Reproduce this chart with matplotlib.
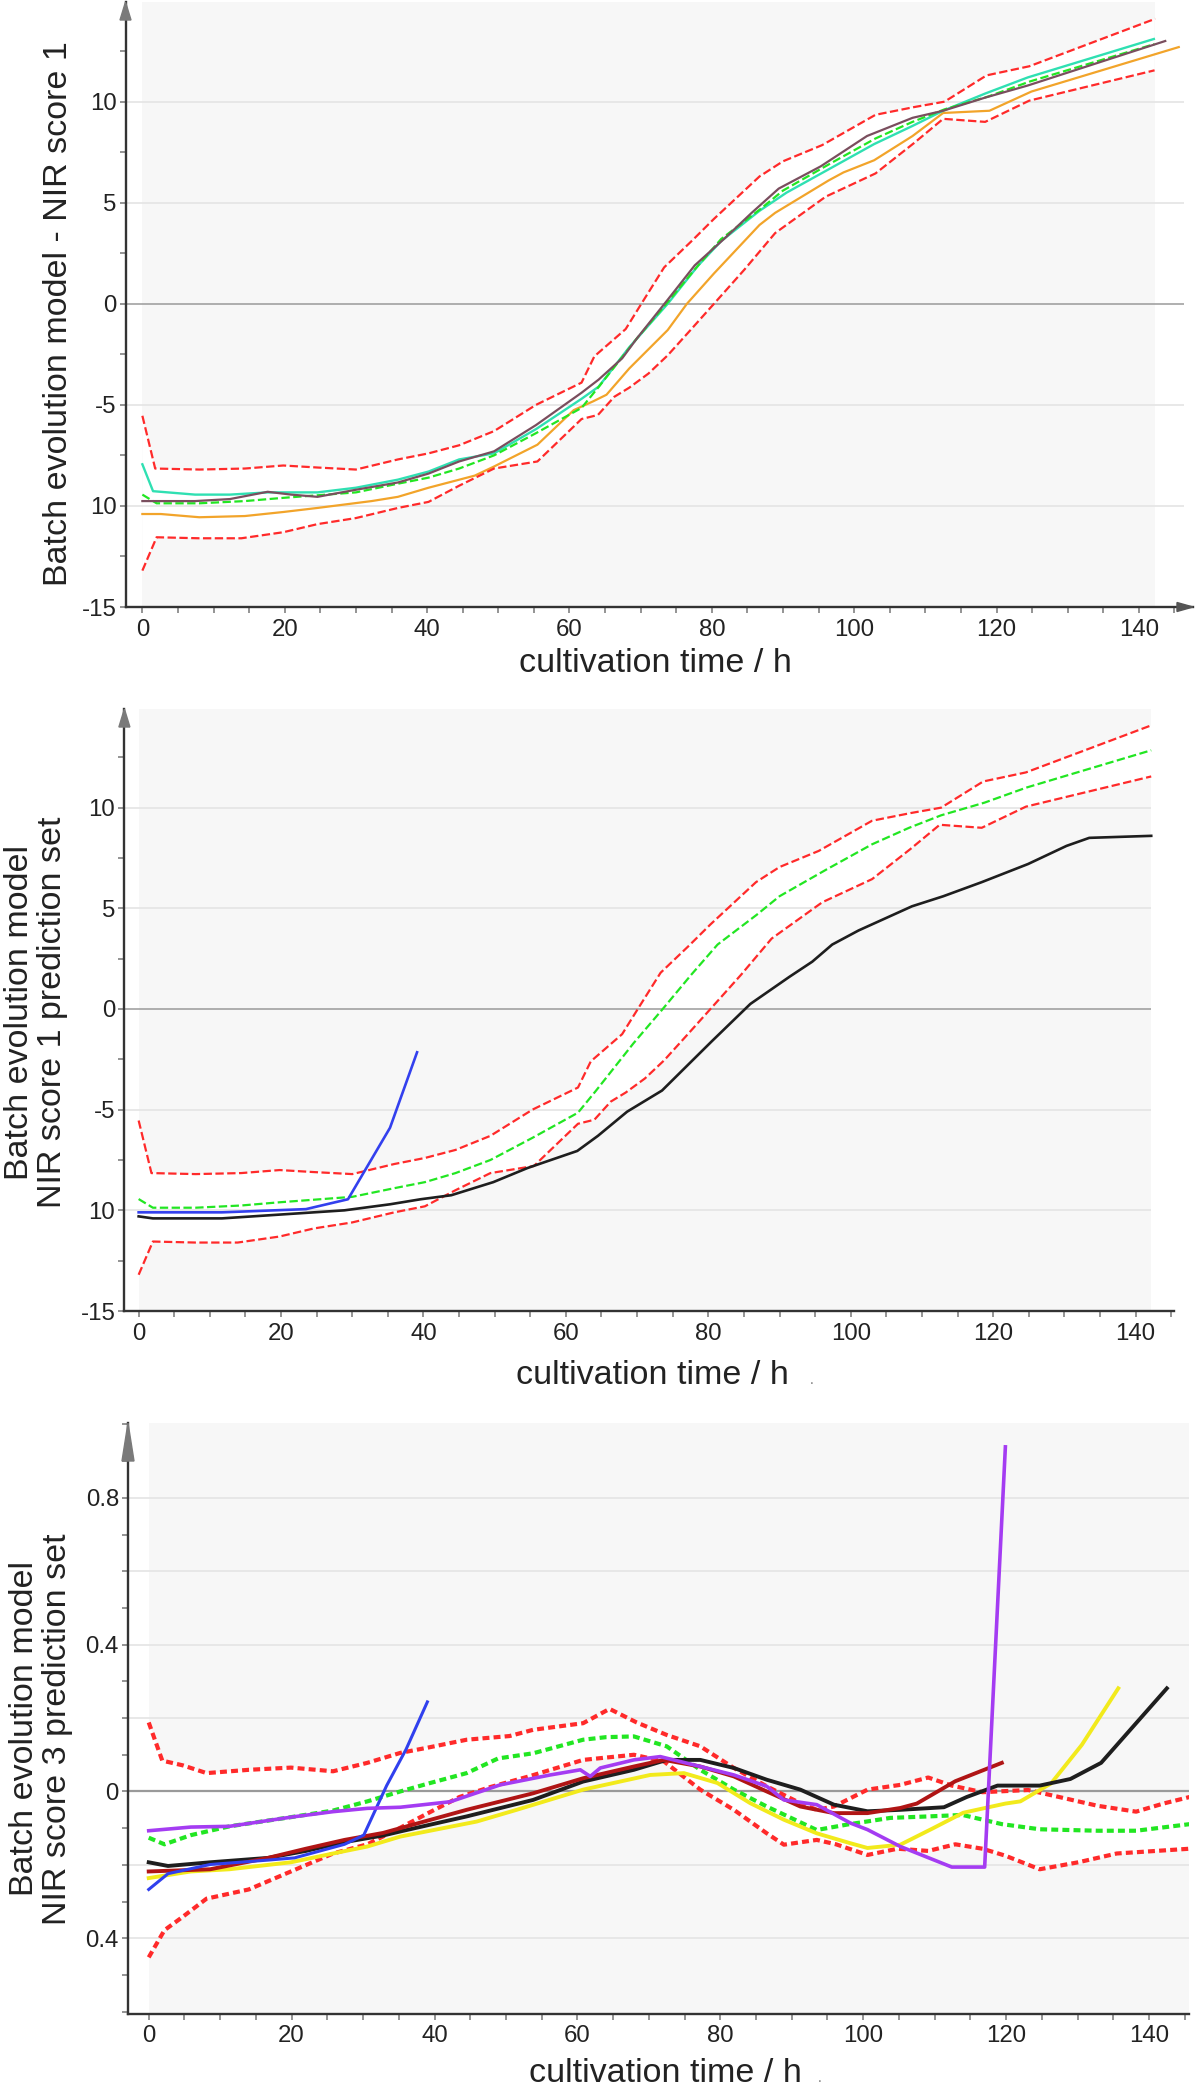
import matplotlib
matplotlib.use("Agg")
import matplotlib.pyplot as plt
from matplotlib.patches import Rectangle, Polygon
from matplotlib.ticker import MultipleLocator
import numpy as np

plt.rcParams['font.family'] = ['Liberation Sans', 'DejaVu Sans']
plt.rcParams['lines.scale_dashes'] = False

# ---------------- data: model limits / mean (score 1, panels 1 & 2) ----------------
ucl1_t = [0, 1.8, 8, 14.4, 19.8, 24.6, 30, 35.9, 40.2, 44.5, 49.4, 55.3, 61.7, 63.5, 67.9,
          70.1, 73.3, 77.3, 80.3, 86.7, 90, 95.5, 103, 108.4, 112.7, 118.6, 124.6, 142.3]
ucl1 = [-5.54, -8.15, -8.2, -8.15, -8.0, -8.1, -8.2, -7.7, -7.4, -7.0, -6.3, -5.0, -3.9, -2.6,
        -1.25, 0, 1.8, 3.15, 4.2, 6.3, 7.05, 7.85, 9.35, 9.73, 10.0, 11.3, 11.75, 14.1]

lcl1_t = [0, 2, 8, 13.9, 19.8, 24.6, 30, 35.9, 40.2, 44.5, 49.4, 55.5, 61.7, 64, 66.3, 68.4,
          71.1, 73.8, 77, 80.3, 84.6, 88.9, 96, 103, 108.4, 112.5, 118.4, 124.6, 128.7, 142.2]
lcl1 = [-13.2, -11.55, -11.6, -11.6, -11.3, -10.9, -10.6, -10.1, -9.8, -9.0, -8.15, -7.8, -5.7,
        -5.5, -4.6, -4.15, -3.45, -2.55, -1.3, 0, 1.7, 3.5, 5.3, 6.45, 7.95, 9.15, 9.0, 10.05,
        10.4, 11.55]

mean1_t = [0, 2, 8, 14.4, 19.8, 30, 35.9, 40.2, 44.5, 49.4, 55.3, 61.7, 64.2, 69.5, 73.6,
           77.6, 81.3, 86.8, 90, 96.6, 103, 108.2, 112.7, 118.8, 124.7, 142.2]
mean1 = [-9.44, -9.87, -9.87, -9.76, -9.6, -9.33, -8.9, -8.6, -8.15, -7.5, -6.4, -5.15, -4.07,
         -1.7, 0, 1.7, 3.2, 4.68, 5.6, 6.93, 8.18, 9.0, 9.62, 10.25, 11.0, 12.85]

# panel 1 training batches
cyan_t = [0, 1.5, 7.4, 12.3, 17.6, 24.6, 30, 35.9, 40.2, 44.5, 49.4, 55.3, 61.7, 64.1, 68.4,
          73.8, 78.1, 81.3, 86.7, 90.5, 96.4, 102.8, 108.2, 112.5, 118.4, 124.4, 142.1]
cyan = [-7.94, -9.27, -9.44, -9.44, -9.33, -9.33, -9.1, -8.7, -8.3, -7.7, -7.4, -6.2, -4.7,
        -4.1, -2.15, 0, 1.9, 3.1, 4.6, 5.5, 6.65, 7.9, 8.8, 9.55, 10.4, 11.2, 13.1]

mauve_t = [0, 7.4, 12.3, 17.6, 20.9, 24.6, 30, 35.9, 40.2, 44.5, 49.4, 55.3, 61.7, 64.1, 67.4,
           69.5, 73.8, 77.6, 82, 85.6, 89.4, 95.3, 101.8, 108.2, 112.5, 118.4, 124.4, 143.7]
mauve = [-9.76, -9.76, -9.66, -9.3, -9.44, -9.55, -9.2, -8.84, -8.4, -7.8, -7.3, -6.0, -4.4,
         -3.75, -2.7, -1.7, 0.2, 1.9, 3.3, 4.5, 5.7, 6.8, 8.3, 9.2, 9.55, 10.2, 10.8, 13.0]

orange_t = [0, 2.6, 8, 14.4, 19.8, 24.6, 32.2, 35.9, 40.2, 46.7, 49.4, 55.5, 60.6, 63.3, 65.2,
            68.4, 73.8, 76.5, 80.3, 86.7, 88.9, 96.4, 98.5, 102.8, 108.2, 112.5, 119, 124.9,
            145.6]
orange = [-10.4, -10.4, -10.56, -10.5, -10.3, -10.1, -9.76, -9.55, -9.1, -8.5, -8.05, -6.97,
          -5.26, -4.83, -4.5, -3.2, -1.3, 0, 1.5, 3.9, 4.5, 6.1, 6.5, 7.1, 8.3, 9.44, 9.55, 10.5,
          12.7]

# panel 2 prediction batches
black2_t = [0, 2, 11.7, 20.3, 28.9, 35.3, 39.6, 43.9, 49.8, 54.6, 61.6, 64.5, 68.6, 73.5, 80.5,
            85.9, 91.4, 94.6, 97.4, 101.1, 108.6, 113, 118.4, 124.9, 130.3, 133.5, 142.2]
black2 = [-10.3, -10.4, -10.4, -10.2, -10.0, -9.7, -9.45, -9.25, -8.6, -7.9, -7.05, -6.3, -5.1,
          -4.05, -1.6, 0.25, 1.6, 2.35, 3.2, 3.9, 5.1, 5.6, 6.3, 7.2, 8.1, 8.5, 8.6]

blue2_t = [0, 11.7, 23.5, 29.4, 35.3, 39.1]
blue2 = [-10.1, -10.1, -9.94, -9.45, -5.9, -2.15]

# ---------------- data: score 3 (panel 3) ----------------
ucl3_t = [0, 1.9, 4.8, 8.1, 14, 19.9, 25.8, 30.6, 35.2, 39.2, 44.5, 50.5, 53.8, 60.8, 64.5,
          68.3, 72.5, 77.2, 81.9, 86.5, 91.2, 93.5, 95.9, 100.6, 105.2, 109.1, 112.4, 116.7,
          123.1, 127.4, 132.8, 138.2, 142, 145.7]
ucl3 = [0.188, 0.084, 0.071, 0.05, 0.059, 0.065, 0.055, 0.078, 0.105, 0.12, 0.141, 0.151, 0.168,
        0.186, 0.225, 0.188, 0.154, 0.123, 0.064, 0.014, -0.032, -0.05, -0.041, 0.005, 0.018,
        0.038, 0.016, -0.002, 0.004, -0.015, -0.039, -0.055, -0.033, -0.015]

lcl3_t = [0, 2.2, 4.8, 8.1, 14, 19.9, 25.8, 30.6, 35, 39.2, 43.5, 47.8, 53.2, 60.8, 67.9, 72.1,
          77.2, 81.9, 86.5, 88.9, 93.5, 96.2, 100.6, 104.8, 109.1, 112.9, 116.7, 119.9, 124.7,
          130.1, 135.5, 145.7]
lcl3 = [-0.452, -0.378, -0.341, -0.292, -0.267, -0.218, -0.169, -0.144, -0.101, -0.058, -0.015,
        0.012, 0.041, 0.086, 0.1, 0.082, 0.005, -0.05, -0.114, -0.145, -0.132, -0.144, -0.173,
        -0.156, -0.162, -0.144, -0.156, -0.175, -0.212, -0.193, -0.169, -0.156]

mean3_t = [0, 2.2, 5.9, 11.3, 19.9, 25.8, 30.6, 35.2, 39.2, 44.5, 48.9, 53.8, 60.8, 64, 67.9,
           72.5, 77.2, 81.9, 86.5, 93.5, 97.8, 103.8, 109.1, 113.9, 119.4, 124.7, 132.8, 138.2,
           145.7]
mean3 = [-0.126, -0.144, -0.119, -0.095, -0.07, -0.052, -0.027, 0.0, 0.022, 0.05, 0.09, 0.104,
         0.141, 0.148, 0.15, 0.123, 0.059, 0.005, -0.041, -0.105, -0.09, -0.072, -0.068, -0.064,
         -0.089, -0.103, -0.107, -0.107, -0.089]

black3_t = [0, 2.7, 8.6, 16.7, 22, 27.4, 32.8, 35.2, 44.5, 53.8, 60.8, 67.9, 72.5, 77.2, 81.9,
            86.5, 91.2, 95.9, 100.6, 105.2, 111.3, 114.5, 118.8, 124.7, 129, 133.3, 142.5]
black3 = [-0.193, -0.203, -0.193, -0.181, -0.162, -0.138, -0.12, -0.109, -0.068, -0.023, 0.027,
          0.059, 0.086, 0.086, 0.064, 0.032, 0.005, -0.036, -0.054, -0.05, -0.043, -0.015, 0.016,
          0.016, 0.034, 0.078, 0.281]

yellow3_t = [0, 5.9, 11.3, 19.9, 25.8, 30.6, 35.2, 45.9, 51.5, 60.8, 70.2, 74.9, 79.6, 84.2,
             88.9, 93.5, 98.2, 100.6, 105.2, 109.7, 114, 119.9, 122, 126.3, 130.6, 135.7]
yellow3 = [-0.236, -0.218, -0.212, -0.193, -0.169, -0.15, -0.123, -0.082, -0.05, 0.005, 0.045,
           0.05, 0.023, -0.032, -0.077, -0.114, -0.141, -0.154, -0.145, -0.101, -0.058, -0.033,
           -0.027, 0.022, 0.127, 0.281]

darkred3_t = [0, 8.6, 16.7, 22, 27.4, 32.8, 35.2, 44.5, 53.8, 60.8, 67.9, 72.1, 77.2, 81.9,
              86.5, 91.2, 95.9, 100.6, 105.2, 107.5, 112.9, 119.4]
darkred3 = [-0.218, -0.212, -0.181, -0.156, -0.132, -0.113, -0.1, -0.05, -0.005, 0.036, 0.068,
            0.086, 0.068, 0.041, 0.0, -0.041, -0.059, -0.059, -0.045, -0.033, 0.028, 0.078]

purple3_t = [0, 5.9, 11.3, 19.9, 25.8, 30.6, 35.2, 42.2, 49.2, 56.2, 60.4, 61.8, 63.2, 67.9,
             71.6, 77.2, 81.9, 86.5, 88.9, 93.5, 98.2, 100.6, 105.2, 112.4, 117, 119.9]
purple3 = [-0.107, -0.097, -0.095, -0.07, -0.055, -0.046, -0.043, -0.028, 0.018, 0.045, 0.059,
           0.041, 0.064, 0.086, 0.095, 0.068, 0.045, 0.014, -0.023, -0.036, -0.086, -0.104,
           -0.15, -0.206, -0.206, 0.939]

blue3_t = [0, 2.7, 8.6, 16.7, 20.4, 27.4, 30.1, 33.3, 36, 39]
blue3 = [-0.267, -0.224, -0.199, -0.187, -0.181, -0.144, -0.119, 0.016, 0.114, 0.244]

# tick labels as printed in the reference
yticks12 = [-15, -10, -5, 0, 5, 10]
yticklabels12 = ["-15", "10", "-5", "0", "5", "10"]
yticks3 = [-0.4, 0, 0.4, 0.8]
yticklabels3 = ["0.4", "0", "0.4", "0.8"]
xticks = [0, 20, 40, 60, 80, 100, 120, 140]
xticklabels = ["0", "20", "40", "60", "80", "100", "120", "140"]

# ---------------- figure ----------------
W, H = 1200, 2087
fig = plt.figure(figsize=(W / 100, H / 100), dpi=100)
fig.patch.set_facecolor("white")

RED = "#ff2a2a"
GREEN = "#22e622"
TXT = "#222222"
SPINE = "#333333"
TICKFS = 17.3
LABFS = 24.5


def make_ax(l, r, t, b, xlim, ylim):
    ax = fig.add_axes([l / W, 1 - b / H, (r - l) / W, (b - t) / H])
    ax.set_xlim(*xlim)
    ax.set_ylim(*ylim)
    ax.set_facecolor("white")
    for s in ("top", "right"):
        ax.spines[s].set_visible(False)
    for s in ("left", "bottom"):
        ax.spines[s].set_color(SPINE)
        ax.spines[s].set_linewidth(1.7)
        ax.spines[s].set_zorder(10)
    ax.set_xticks(xticks)
    ax.set_xticklabels(xticklabels)
    ax.xaxis.set_minor_locator(MultipleLocator(5))
    ax.tick_params(which="both", direction="out", length=4.5, width=1.1, color="#777777",
                   labelsize=TICKFS, labelcolor=TXT)
    ax.tick_params(axis="x", pad=4)
    ax.tick_params(axis="y", pad=2)
    return ax, (r - l), (b - t)


def up_arrow(ax, wpx, hpx, height, width, color="#7a7a7a"):
    h = height / hpx
    w = width / 2 / wpx
    p = Polygon([[0 - w, 1 - h], [0, 1], [0 + w, 1 - h]], closed=True, transform=ax.transAxes,
                facecolor=color, edgecolor=color, clip_on=False, zorder=12)
    ax.add_patch(p)


def right_arrow(ax, wpx, hpx, length, width, color="#555555"):
    l = length / wpx
    h = width / 2 / hpx
    p = Polygon([[1 - l, -h], [1, 0], [1 - l, h]], closed=True, transform=ax.transAxes,
                facecolor=color, edgecolor=color, clip_on=False, zorder=12)
    ax.add_patch(p)


def background(ax, xright, ylim, ucl_t, ucl, lcl_t, lcl, grid, grid_right, zero_lw=1.1):
    ax.add_patch(Rectangle((0, ylim[0]), xright, ylim[1] - ylim[0], facecolor="#f7f7f7",
                           edgecolor="none", zorder=0))
    tt = np.union1d(ucl_t, lcl_t)
    tt = tt[tt <= min(max(ucl_t), max(lcl_t))]
    ax.fill_between(tt, np.interp(tt, lcl_t, lcl), np.interp(tt, ucl_t, ucl),
                    facecolor="white", edgecolor="none", zorder=0.5)
    ax.hlines(grid, ax.get_xlim()[0], grid_right, colors="#e6e6e6", linewidth=1.3, zorder=1)
    ax.hlines([0], ax.get_xlim()[0], grid_right, colors="#9a9a9a", linewidth=zero_lw, zorder=1.1)


# ---------------- panel 1 ----------------
ylim1 = (-15, 14.93)
ax1, w1, h1 = make_ax(125.5, 1193, 2, 607, (-2.37, 147.6), ylim1)
background(ax1, 142.2, ylim1, ucl1_t, ucl1, lcl1_t, lcl1, [-10, -5, 5, 10], 146.3)
ax1.set_yticks(yticks12)
ax1.set_yticklabels(yticklabels12)
ax1.yaxis.set_minor_locator(MultipleLocator(2.5))
ax1.plot(orange_t, orange, color="#f2a42a", lw=1.6, zorder=3)
ax1.plot(cyan_t, cyan, color="#2fe0b2", lw=1.7, zorder=3)
ax1.plot(mauve_t, mauve, color="#7a4e5e", lw=1.6, zorder=3.2)
ax1.plot(mean1_t, mean1, color=GREEN, lw=1.6, dashes=(6, 2.5), zorder=3.1)
ax1.plot(ucl1_t, ucl1, color=RED, lw=1.6, dashes=(6, 2.5), zorder=4)
ax1.plot(lcl1_t, lcl1, color=RED, lw=1.6, dashes=(6, 2.5), zorder=4)
up_arrow(ax1, w1, h1, 18, 11)
right_arrow(ax1, w1, h1, 16, 9)

# ---------------- panel 2 ----------------
ylim2 = (-15, 14.9)
ax2, w2, h2 = make_ax(124.4, 1174, 709, 1311, (-2.0, 145.4), ylim2)
background(ax2, 142.1, ylim2, ucl1_t, ucl1, lcl1_t, lcl1, [-10, -5, 5, 10], 142.1)
ax2.set_yticks(yticks12)
ax2.set_yticklabels(yticklabels12)
ax2.yaxis.set_minor_locator(MultipleLocator(2.5))
ax2.plot(mean1_t, mean1, color=GREEN, lw=1.6, dashes=(6, 2.5), zorder=3.1)
ax2.plot(ucl1_t, ucl1, color=RED, lw=1.6, dashes=(6, 2.5), zorder=4)
ax2.plot(lcl1_t, lcl1, color=RED, lw=1.6, dashes=(6, 2.5), zorder=4)
ax2.plot(black2_t, black2, color="#1e1e1e", lw=1.9, zorder=5)
ax2.plot(blue2_t, blue2, color="#3340ee", lw=1.9, zorder=5)
up_arrow(ax2, w2, h2, 18, 11)

# ---------------- panel 3 ----------------
ylim3 = (-0.605, 1.004)
ax3, w3, h3 = make_ax(128, 1189, 1423, 2013.5, (-2.9, 145.6), ylim3)
background(ax3, 145.9, ylim3, ucl3_t, ucl3, lcl3_t, lcl3, [-0.4, -0.2, 0.2, 0.4, 0.6, 0.8],
           145.9, zero_lw=1.6)
ax3.set_yticks(yticks3)
ax3.set_yticklabels(yticklabels3)
ax3.yaxis.set_minor_locator(MultipleLocator(0.1))
ax3.plot(ucl3_t, ucl3, color=RED, lw=3.0, dashes=(5, 3), zorder=3)
ax3.plot(lcl3_t, lcl3, color=RED, lw=3.0, dashes=(5, 3), zorder=3)
ax3.plot(mean3_t, mean3, color=GREEN, lw=3.0, dashes=(5, 3), zorder=3)
ax3.plot(yellow3_t, yellow3, color="#f2ea1c", lw=2.8, zorder=4)
ax3.plot(black3_t, black3, color="#1e1e1e", lw=2.8, zorder=4.1)
ax3.plot(darkred3_t, darkred3, color="#b01515", lw=2.8, zorder=4.2)
ax3.plot(blue3_t, blue3, color="#3040ee", lw=2.2, zorder=4.3)
ax3.plot(purple3_t, purple3, color="#a43cf2", lw=2.6, zorder=4.4)
up_arrow(ax3, w3, h3, 38, 12)


# ---------------- labels ----------------
def ftext(x, y, s, **kw):
    kw.setdefault("color", TXT)
    fig.text(x / W, 1 - y / H, s, **kw)


ftext(59, 314, "Batch evolution model - NIR score 1", rotation=90, ha="center", va="center",
      fontsize=LABFS)
ftext(655, 663, "cultivation time / h", ha="center", va="center", fontsize=LABFS)

ftext(36, 1012, "Batch evolution model\nNIR score 1 prediction set", rotation=90, ha="center",
      va="center", fontsize=LABFS, linespacing=1.12, multialignment="center")
ftext(652, 1375, "cultivation time / h", ha="center", va="center", fontsize=LABFS)
ftext(812, 1380, ".", ha="center", va="center", fontsize=10, color="#777777")

ftext(41, 1729, "Batch evolution model\nNIR score 3 prediction set", rotation=90, ha="center",
      va="center", fontsize=LABFS, linespacing=1.06, multialignment="center")
ftext(665, 2074, "cultivation time / h", ha="center", va="center", fontsize=LABFS)
ftext(820, 2078, ".", ha="center", va="center", fontsize=10, color="#777777")

fig.savefig("out.png", dpi=100, facecolor="white")
